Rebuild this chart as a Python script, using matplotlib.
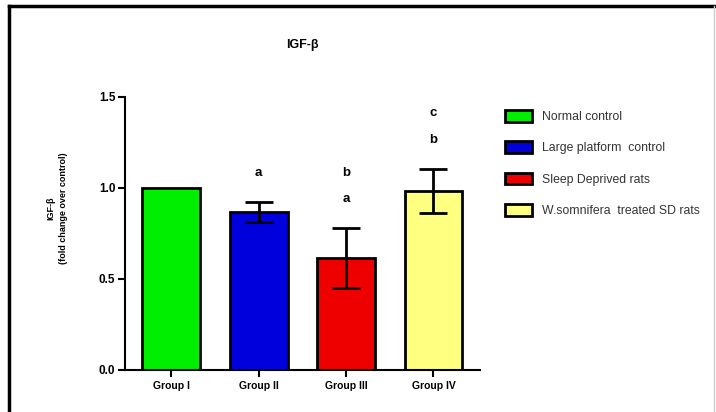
import matplotlib
matplotlib.use("Agg")
import matplotlib.pyplot as plt
from matplotlib.patches import Patch
from matplotlib.lines import Line2D

plt.rcParams['font.family'] = ['Liberation Sans', 'DejaVu Sans']

groups = ['Group I', 'Group II', 'Group III', 'Group IV']
means = [1.0, 0.87, 0.615, 0.985]
sems = [0.0, 0.055, 0.165, 0.12]
colors = ['#00ee00', '#0000dd', '#ee0000', '#ffff80']
legend_labels = ['Normal control', 'Large platform  control',
                 'Sleep Deprived rats', 'W.somnifera  treated SD rats']
# significance letters per group, bottom to top
sig_letters = [[], ['a'], ['a', 'b'], ['b', 'c']]

fig = plt.figure(figsize=(7.16, 4.12), dpi=100)
ax = fig.add_axes([0.1746, 0.102, 0.4955, 0.6626])

x = list(range(len(groups)))
ax.bar(x, means, width=0.66, color=colors, edgecolor='black', linewidth=2, zorder=2)
for xi, m, s in zip(x, means, sems):
    if s > 0:
        ax.errorbar(xi, m, yerr=s, fmt='none', ecolor='black', elinewidth=2,
                    capsize=10, capthick=2, zorder=3)

# letters above bars
for xi, m, s, letters in zip(x, means, sems, sig_letters):
    y = m + s + 0.16
    for lt in letters:
        ax.text(xi, y, lt, ha='center', va='center', fontsize=9.5, fontweight='bold')
        y += 0.145

ax.set_xlim(-0.53, 3.53)
ax.set_ylim(0, 1.5)
ax.set_yticks([0.0, 0.5, 1.0, 1.5])
ax.set_yticklabels(['0.0', '0.5', '1.0', '1.5'], fontsize=8.5, fontweight='bold')
ax.set_xticks(x)
ax.set_xticklabels(groups, fontsize=7.5, fontweight='bold')
ax.tick_params(axis='both', direction='out', length=5, width=1.5)
ax.tick_params(axis='y', pad=2)
ax.tick_params(axis='x', pad=3)
for side in ['top', 'right']:
    ax.spines[side].set_visible(False)
for side in ['left', 'bottom']:
    ax.spines[side].set_linewidth(1.5)

ax.set_title('IGF-β', fontsize=9, fontweight='bold', pad=35)

fig.text(0.08, 0.495, 'IGF-β\n(fold change over control)', rotation=90,
         ha='center', va='center', fontsize=6.5, fontweight='bold', linespacing=1.5)

handles = [Patch(facecolor=c, edgecolor='black', linewidth=2) for c in colors]
fig.legend(handles, legend_labels, loc='upper left', bbox_to_anchor=(0.69, 0.76),
           frameon=False, fontsize=8.8, handlelength=2.2, handleheight=1.1,
           labelspacing=1.5, handletextpad=0.8, labelcolor='#333333')

# outer frame (left and top black, right faint)
fig.add_artist(Line2D([0.012, 0.012], [0.0, 0.985], color='black', linewidth=2.5,
                      transform=fig.transFigure))
fig.add_artist(Line2D([0.012, 1.0], [0.985, 0.985], color='black', linewidth=2.5,
                      transform=fig.transFigure))
fig.add_artist(Line2D([0.997, 0.997], [0.0, 0.985], color='#cccccc', linewidth=1,
                      transform=fig.transFigure))

fig.savefig('out.png', dpi=100)
